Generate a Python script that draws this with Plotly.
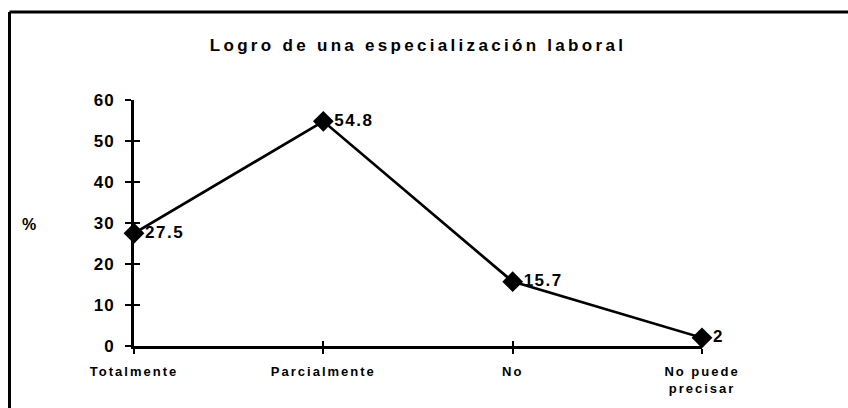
import plotly.graph_objects as go

categories = ["Totalmente", "Parcialmente", "No", "No puede<br>precisar"]
values = [27.5, 54.8, 15.7, 2]
labels = ["27.5", "54.8", "15.7", "2"]
y_ticks = [0, 10, 20, 30, 40, 50, 60]
title_text = "Logro de una especialización laboral"

W, H = 848, 408
L, R, T, B = 134, 146, 100, 58
pw, ph = W - L - R, H - T - B

FONT = "Liberation Sans, Arial, sans-serif"
x_pos = list(range(len(categories)))

fig = go.Figure()
fig.add_trace(go.Scatter(
    x=x_pos, y=values, mode="lines+markers+text",
    text=labels, textposition="middle right",
    textfont=dict(family=FONT, size=17, color="black", weight="bold"),
    line=dict(color="black", width=2.7),
    marker=dict(symbol="diamond", size=16, color="black"),
    cliponaxis=False, showlegend=False, hoverinfo="skip",
))
# invisible trace to activate overlay axes (for crossing ticks)
fig.add_trace(go.Scatter(x=[0], y=[0], xaxis="x2", yaxis="y2", mode="markers",
                         marker=dict(opacity=0), showlegend=False, hoverinfo="skip"))

axis_common = dict(showgrid=False, zeroline=False, color="black")
fig.update_layout(
    width=W, height=H,
    margin=dict(l=L, r=R, t=T, b=B),
    paper_bgcolor="white", plot_bgcolor="white",
    font=dict(family=FONT, color="black"),
    title=dict(text=title_text, x=0.5, xref="paper", xanchor="center",
               y=1 - 45 / H, yref="container", yanchor="middle",
               font=dict(family=FONT, size=17, color="black", weight="bold")),
    xaxis=dict(**axis_common, range=[0, 3], tickvals=x_pos, ticktext=categories,
               showline=True, linewidth=3, linecolor="black",
               ticks="outside", ticklen=5, tickwidth=2, tickcolor="black",
               ticklabelstandoff=6,
               tickfont=dict(family=FONT, size=13, color="black", weight="bold")),
    yaxis=dict(**axis_common, range=[0, 60], tickvals=y_ticks,
               showline=True, linewidth=3, linecolor="black",
               ticks="outside", ticklen=6, tickwidth=2, tickcolor="black",
               ticklabelstandoff=7,
               tickfont=dict(family=FONT, size=17, color="black", weight="bold")),
    xaxis2=dict(**axis_common, overlaying="x", anchor="y2", side="bottom",
                range=[0, 3], tickvals=x_pos, showticklabels=False,
                ticks="inside", ticklen=5, tickwidth=2, tickcolor="black", showline=False),
    yaxis2=dict(**axis_common, overlaying="y", anchor="x2", side="left",
                range=[0, 60], tickvals=y_ticks, showticklabels=False,
                ticks="inside", ticklen=6, tickwidth=2, tickcolor="black", showline=False),
)

# frame (top and left edges)
def px_x(px):
    return (px - L) / pw

def px_y(py):
    return (H - B - py) / ph

fig.add_shape(type="line", xref="paper", yref="paper",
              x0=px_x(9.5), x1=px_x(W + 5), y0=px_y(10.5), y1=px_y(10.5),
              line=dict(color="black", width=3))
fig.add_shape(type="line", xref="paper", yref="paper",
              x0=px_x(9.5), x1=px_x(9.5), y0=px_y(10.5), y1=px_y(H + 5),
              line=dict(color="black", width=3))

fig.add_annotation(text="%", xref="paper", yref="paper", x=px_x(29), y=px_y(227),
                   showarrow=False, xanchor="center", yanchor="middle",
                   font=dict(family=FONT, size=16, color="black", weight="bold"))

post = """
document.body.style.margin='0';
document.querySelectorAll('.gtitle').forEach(function(t){t.style.letterSpacing='3.3px';});
document.querySelectorAll('.xtick text').forEach(function(t){t.style.letterSpacing='2px';});
document.querySelectorAll('.ytick text').forEach(function(t){t.style.letterSpacing='1px';});
document.querySelectorAll('.textpoint text').forEach(function(t){t.style.letterSpacing='1.5px';});
"""
fig.write_html("out.html", post_script=post, config={"displayModeBar": False})
